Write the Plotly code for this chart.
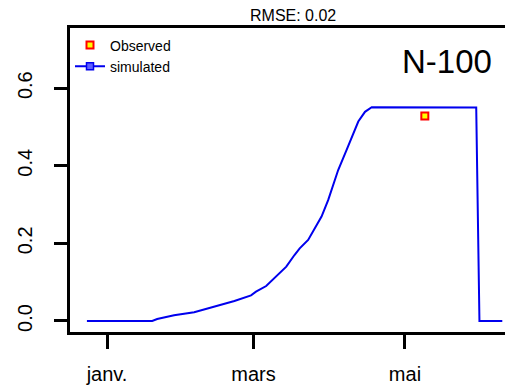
import pandas as pd
import plotly.graph_objects as go

# simulated series: days since 1 January (negative = December of previous year)
sim_days = [-8.1, 18.2, 20.2, 27.0, 35.1, 43.2, 51.3, 58.0, 60.0, 64.1,
            68.1, 72.2, 75.5, 77.6, 81.0, 83.6, 86.4, 89.1, 90.4, 93.1,
            96.5, 99.2, 101.2, 103.9, 106.6, 148.7, 150.0, 159.2]
sim_values = [0.0, 0.0, 0.005, 0.0147, 0.0224, 0.0369, 0.0515, 0.066, 0.0755, 0.090,
              0.114, 0.140, 0.170, 0.187, 0.209, 0.239, 0.269, 0.312, 0.338, 0.389,
              0.441, 0.484, 0.514, 0.539, 0.551, 0.55, 0.0, 0.0]
obs_days = [128.0]
obs_values = [0.528]

tick_dates = ["2023-01-01", "2023-03-01", "2023-05-01"]
tick_labels = ["janv.", "mars", "mai"]
ytick_vals = [0.0, 0.2, 0.4, 0.6]
ytick_labels = ["0.0", "0.2", "0.4", "0.6"]

title_text = "RMSE: 0.02"
panel_label = "N-100"

origin = pd.Timestamp("2023-01-01")
sim_dates = [origin + pd.Timedelta(days=d) for d in sim_days]
obs_dates = [origin + pd.Timedelta(days=d) for d in obs_days]

fig = go.Figure()
fig.add_trace(go.Scatter(x=obs_dates, y=obs_values, mode="markers", name="Observed",
                         marker=dict(symbol="square", size=7, color="#ffff00",
                                     line=dict(color="#ff0000", width=2))))
fig.add_trace(go.Scatter(x=sim_dates, y=sim_values, mode="lines", showlegend=False,
                         line=dict(color="#0000ee", width=2)))
fig.add_trace(go.Scatter(x=[None], y=[None], mode="lines+markers", name="simulated",
                         line=dict(color="#0000ee", width=2),
                         marker=dict(symbol="square", size=7, color="#6060ff",
                                     line=dict(color="#0000ee", width=1.5))))

pw = 505 - 70
ph = 385 - 28 - 53

fig.update_layout(
    width=505, height=385,
    margin=dict(l=70, r=0, t=28, b=53),
    plot_bgcolor="white", paper_bgcolor="white",
    font=dict(family="Liberation Sans, Arial, sans-serif", color="black"),
    showlegend=True,
    legend=dict(x=0.0, y=0.995, xanchor="left", yanchor="top",
                bgcolor="rgba(0,0,0,0)", borderwidth=0,
                font=dict(size=14), tracegroupgap=0, itemwidth=30),
    xaxis=dict(range=["2022-12-17 02:00", "2023-06-10 07:00"],
               tickmode="array", tickvals=tick_dates, ticktext=tick_labels,
               showgrid=False, zeroline=False, showline=True, linecolor="black",
               linewidth=3, mirror=True, ticks="outside", ticklen=14, tickwidth=3,
               tickcolor="black", tickfont=dict(size=20), ticklabelstandoff=8),
    yaxis=dict(range=[-0.0284, 0.755], tickmode="array", tickvals=ytick_vals,
               ticktext=ytick_labels, showgrid=False, zeroline=False, showline=True,
               linecolor="black", linewidth=3, mirror=False, ticks="outside",
               ticklen=13, tickwidth=3, tickcolor="black", tickangle=-90,
               tickfont=dict(size=20), ticklabelstandoff=14),
    annotations=[
        dict(text=title_text, x=(293 - 70) / pw, y=(332 - 16) / ph,
             xref="paper", yref="paper", xanchor="center", yanchor="middle",
             showarrow=False, font=dict(size=16)),
        dict(text=panel_label, x=(446.7 - 70) / pw, y=(332 - 62) / ph,
             xref="paper", yref="paper", xanchor="center", yanchor="middle",
             showarrow=False, font=dict(size=33)),
    ],
)

fig.write_html("out.html")
